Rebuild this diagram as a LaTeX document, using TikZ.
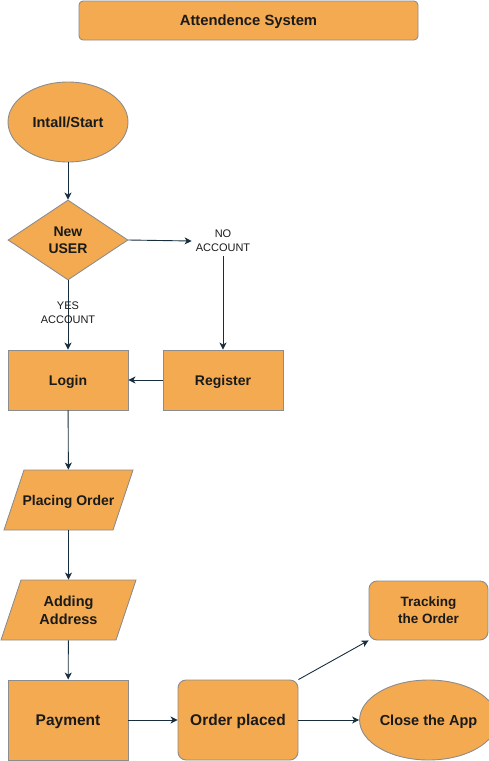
\documentclass[tikz,border=0pt]{standalone}
\usepackage{fontspec}
\setmainfont{Liberation Sans}
\usetikzlibrary{arrows.meta,shapes.geometric}
\definecolor{boxfill}{RGB}{243,170,80}
\definecolor{boxedge}{RGB}{140,140,140}
\definecolor{arr}{RGB}{24,46,62}
\definecolor{txt}{RGB}{26,26,26}
\begin{document}
\begin{tikzpicture}[x=1pt,y=-1pt,
  base/.style={draw=boxedge, fill=boxfill, line width=0.9pt, text=txt,
    font=\bfseries\fontsize{14}{17}\selectfont, align=center, inner sep=0pt, text depth=0pt},
  twoline/.style={text depth=-4pt},
  boxnode/.style={base, rectangle, minimum width=120pt, minimum height=60pt},
  rbox/.style={boxnode, rounded corners=8pt},
  oval/.style={base, ellipse, minimum width=120pt, minimum height=80pt},
  dec/.style={base, diamond, shape aspect=1.5, minimum width=120pt, minimum height=80pt},
  paratext/.style={base, draw=none, fill=none, rectangle, minimum width=110pt, minimum height=60pt},
  parashape/.style={draw=boxedge, fill=boxfill, line width=0.9pt},
  lbl/.style={font=\fontsize{11}{14}\selectfont, text=txt, align=center, inner sep=4pt},
  conn/.style={draw=arr, line width=0.9pt, -{Stealth[length=7pt,width=7pt,inset=2pt]}}
]
\useasboundingbox (0,0) rectangle (489,761);
\node[boxnode, rounded corners=4pt, minimum width=339pt, minimum height=39pt,
  font=\bfseries\fontsize{14.8}{17}\selectfont] (title) at (248.5,20.5) {Attendence System};
\node[oval, font=\bfseries\fontsize{14.5}{17}\selectfont] (start) at (68,122) {Intall/Start};
\node[dec, twoline] (user) at (68,240) {New\\USER};
\node[lbl] (no) at (223,241) {NO\\ACCOUNT};
\node[boxnode] (login) at (68,380) {Login};
\node[boxnode] (reg) at (223,380) {Register};
\path[parashape] (24,470) -- (133,470) -- (113,530) -- (4,530) -- cycle;
\node[paratext] (po) at (68.5,500) {Placing Order};
\path[parashape] (21,580) -- (136,580) -- (116,640) -- (1,640) -- cycle;
\node[paratext, twoline, font=\bfseries\fontsize{14.5}{18}\selectfont] (addr) at (68.5,610) {Adding\\Address};
\node[boxnode, minimum height=80pt, font=\bfseries\fontsize{15.5}{18}\selectfont] (pay) at (68,720) {Payment};
\node[rbox, minimum height=80pt, font=\bfseries\fontsize{15.5}{18}\selectfont] (op) at (238,720) {Order placed};
\node[rbox, twoline, minimum width=119pt, minimum height=59pt, font=\bfseries\fontsize{13.5}{17}\selectfont] (track) at (428.5,610.5) {Tracking\\the Order};
\node[oval, minimum width=119pt, font=\bfseries\fontsize{14.5}{17}\selectfont] (close) at (428.5,720) {Close the App};

\draw[conn] (start) -- (user);
\draw[conn] (user.east) -- (no.west);
\draw[conn] (no.south) -- (reg.north);
\draw[conn] (user.south) -- node[lbl, pos=0.46, inner sep=0pt] {YES\\ACCOUNT} (login.north);
\draw[conn] (reg.west) -- (login.east);
\draw[conn] (login) -- (po);
\draw[conn] (po) -- (addr);
\draw[conn] (addr) -- (pay);
\draw[conn] (pay) -- (op);
\draw[conn] (op.north east) -- (track.south west);
\draw[conn] (op) -- (close);
\end{tikzpicture}
\end{document}
